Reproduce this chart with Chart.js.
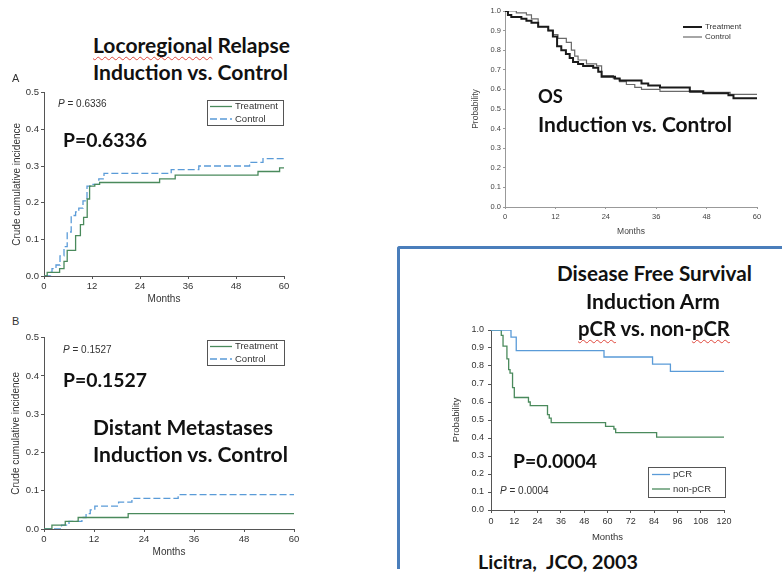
<!DOCTYPE html>
<html>
<head>
<meta charset="utf-8">
<script src="https://cdn.jsdelivr.net/npm/chart.js@4.4.1/dist/chart.umd.min.js"></script>
<style>
  body { margin: 0; background: #fff; }
  #page { position: relative; width: 782px; height: 576px; overflow: hidden; background: #fff; }
  canvas { position: absolute; }
  .big { position: absolute; font-family: Lato, 'Open Sans', sans-serif; font-weight: 700; color: #111; white-space: nowrap; line-height: 1; }
  .sq { text-decoration: underline wavy #e0483c; text-decoration-thickness: 1px; text-underline-offset: 3px; text-decoration-skip-ink: none; }
  .small { position: absolute; font-family: 'Liberation Sans', Arial, sans-serif; color: #333; white-space: nowrap; line-height: 1; }
  #frame { position: absolute; left: 397px; top: 246px; width: 400px; height: 320px; border-left: 3px solid #4a7ebb; border-top: 3px solid #4a7ebb; border-top-left-radius: 3px; }
</style>
</head>
<body>
<div id="page">
  <div id="frame"></div>
  <canvas id="chartA"></canvas>
  <canvas id="chartB"></canvas>
  <canvas id="chartOS"></canvas>
  <canvas id="chartDFS"></canvas>
</div>
<script>
// A - locoregional relapse, crude cumulative incidence
var lrTrtMonths = [0, 0.8, 3.9, 5, 5.8, 7.9, 9.1, 9.9, 10.8, 11.4, 12.7, 13.9, 28.9, 32.8, 53.5, 58.9, 60];
var lrTrtValues = [0, 0.01, 0.02, 0.04, 0.07, 0.11, 0.14, 0.16, 0.21, 0.245, 0.25, 0.255, 0.265, 0.275, 0.285, 0.295, 0.295];
var lrCtlMonths = [0, 1.7, 2, 3, 4, 5, 5.8, 6.8, 7.9, 8.7, 9.75, 10.75, 12.25, 13.7, 15, 31.8, 38.7, 51.4, 54.75, 60];
var lrCtlValues = [0, 0.01, 0.02, 0.03, 0.055, 0.08, 0.12, 0.165, 0.175, 0.185, 0.205, 0.245, 0.25, 0.265, 0.28, 0.29, 0.30, 0.31, 0.32, 0.32];

// B - distant metastases
var dmTrtMonths = [0, 1.9, 5.1, 8.2, 20.2, 60];
var dmTrtValues = [0, 0.01, 0.02, 0.03, 0.04, 0.04];
var dmCtlMonths = [0, 4.2, 6, 9.1, 10.1, 11.1, 12.2, 17.9, 21.1, 32.2, 60];
var dmCtlValues = [0, 0.01, 0.02, 0.03, 0.04, 0.05, 0.06, 0.07, 0.08, 0.09, 0.09];

// OS - probability
var osTrtMonths = [0, 0.7, 1.5, 3.9, 5.1, 6.3, 7.9, 10.3, 11.4, 12.4, 13.4, 14.5, 15.4, 16.2, 17.4, 18.6, 21, 22.2, 23, 26.2, 27.3, 32.5, 34.1, 36.9, 44, 47.2, 53.2, 54.4, 60];
var osTrtValues = [1, 0.98, 0.97, 0.96, 0.95, 0.94, 0.92, 0.9, 0.87, 0.82, 0.80, 0.78, 0.76, 0.74, 0.73, 0.72, 0.71, 0.69, 0.665, 0.655, 0.645, 0.63, 0.62, 0.61, 0.59, 0.58, 0.57, 0.555, 0.555];
var osCtlMonths = [0, 2.7, 5.1, 6.3, 7.9, 10.3, 11.4, 12.6, 14.6, 15.8, 16.6, 17.4, 19.4, 21.8, 23, 25.8, 27.3, 28.9, 30.9, 32.5, 36.9, 44, 53.6, 60];
var osCtlValues = [1, 0.99, 0.98, 0.96, 0.92, 0.9, 0.88, 0.86, 0.84, 0.80, 0.77, 0.75, 0.73, 0.72, 0.67, 0.655, 0.64, 0.625, 0.61, 0.60, 0.59, 0.585, 0.575, 0.575];

// DFS - induction arm, pCR vs non-pCR
var dfsPcrMonths = [0, 10.3, 13, 58.2, 83.2, 92.4, 120];
var dfsPcrValues = [1, 0.96, 0.885, 0.85, 0.81, 0.77, 0.77];
var dfsNonMonths = [0, 5.3, 6.2, 8.2, 9.1, 9.8, 11.1, 12, 19.3, 20.2, 29.1, 30, 31, 59, 63.3, 64.2, 85.3, 120];
var dfsNonValues = [1, 0.97, 0.91, 0.84, 0.78, 0.76, 0.68, 0.625, 0.60, 0.58, 0.53, 0.51, 0.485, 0.465, 0.45, 0.43, 0.405, 0.405];

var green = '#4a8a5c';
var blue = '#5a9bd8';
var axisFont = 'Liberation Sans, Arial, sans-serif';

function steps(months, values) {
    return months.map(function(m, i) { return { x: m, y: values[i] }; });
}

// draws a small legend (optionally boxed) from the chart's own datasets
var boxLegend = {
    id: 'boxLegend',
    afterDraw: function(chart, args, o) {
        if (!o.rows) return;
        var ctx = chart.ctx;
        ctx.save();
        if (o.box) {
            ctx.strokeStyle = '#555';
            ctx.lineWidth = 1;
            ctx.strokeRect(o.x + 0.5, o.y + 0.5, o.w, o.h);
        }
        ctx.font = o.size + 'px ' + axisFont;
        ctx.fillStyle = '#333';
        ctx.textBaseline = 'middle';
        chart.data.datasets.forEach(function(ds, i) {
            var cy = o.rows[i];
            ctx.beginPath();
            ctx.strokeStyle = ds.borderColor;
            ctx.lineWidth = ds.borderWidth;
            ctx.setLineDash(ds.borderDash || []);
            ctx.moveTo(o.x0, cy);
            ctx.lineTo(o.x1, cy);
            ctx.stroke();
            ctx.setLineDash([]);
            ctx.fillText(ds.label, o.tx, cy);
        });
        ctx.restore();
    }
};

/*
 * rect: canvas box on the page, area: wanted plot area on the page
 */
function makeChart(id, rect, area, cfg) {
    var cv = document.getElementById(id);
    cv.width = rect.w;
    cv.height = rect.h;
    cv.style.left = rect.x + 'px';
    cv.style.top = rect.y + 'px';

    var yw = area.l - rect.x;
    var xh = rect.y + rect.h - area.b;
    var tickFont = { family: axisFont, size: cfg.tick };
    var titleFont = { family: axisFont, size: cfg.title };

    // legend coords page -> canvas
    var lg = cfg.legend;
    var leg = {
        box: lg.box, size: lg.size,
        x: lg.x - rect.x, y: lg.y - rect.y, w: lg.w, h: lg.h,
        x0: lg.x0 - rect.x, x1: lg.x1 - rect.x, tx: lg.tx - rect.x,
        rows: lg.rows.map(function(r) { return r - rect.y; })
    };

    var gridOpts = { display: true, drawOnChartArea: false, drawTicks: true, tickLength: cfg.tickLen, color: cfg.axis };

    return new Chart(cv, {
        type: 'line',
        data: { datasets: cfg.datasets },
        options: {
            responsive: false,
            animation: false,
            devicePixelRatio: 1,
            layout: { padding: { left: 0, top: area.t - rect.y, right: rect.x + rect.w - area.r, bottom: 0 } },
            elements: { point: { radius: 0 } },
            plugins: { legend: { display: false }, tooltip: { enabled: false }, boxLegend: leg },
            scales: {
                x: {
                    type: 'linear', min: 0, max: cfg.xMax,
                    ticks: { stepSize: 12, font: tickFont, color: cfg.tickColor, padding: cfg.xPad, maxRotation: 0, autoSkip: false },
                    grid: gridOpts,
                    border: { display: true, color: cfg.axis, width: 1 },
                    title: { display: true, text: 'Months', font: titleFont, color: cfg.tickColor, padding: { top: 0, bottom: cfg.xTitlePad } },
                    afterFit: function(s) { s.height = xh; }
                },
                y: {
                    type: 'linear', min: 0, max: cfg.yMax,
                    ticks: { stepSize: 0.1, font: tickFont, color: cfg.tickColor, padding: cfg.yPad,
                             callback: function(v) { return v.toFixed(1); } },
                    grid: gridOpts,
                    border: { display: true, color: cfg.axis, width: 1 },
                    title: { display: true, text: cfg.yTitle, font: titleFont, color: cfg.tickColor, padding: { top: cfg.yTitlePad, bottom: 0 } },
                    afterFit: function(s) { s.width = yw; }
                }
            }
        },
        plugins: [boxLegend]
    });
}

function kmSet(label, months, values, color, width, dash) {
    return {
        label: label, data: steps(months, values), borderColor: color, borderWidth: width,
        borderDash: dash || [], stepped: 'before', fill: false, borderCapStyle: 'butt'
    };
}

makeChart('chartA', { x: 0, y: 85, w: 300, h: 220 }, { l: 44, t: 91, r: 284, b: 276 }, {
    datasets: [
        kmSet('Treatment', lrTrtMonths, lrTrtValues, green, 1.3),
        kmSet('Control', lrCtlMonths, lrCtlValues, blue, 1.3, [7, 3])
    ],
    xMax: 60, yMax: 0.5, yTitle: 'Crude cumulative incidence',
    tick: 9.5, title: 10, tickLen: 3, xPad: 2, yPad: 2, xTitlePad: 0, yTitlePad: 11,
    axis: '#555', tickColor: '#333',
    legend: { box: true, size: 9.5, x: 207, y: 100, w: 76, h: 25, x0: 210, x1: 232, tx: 235, rows: [106.5, 119] }
});

makeChart('chartB', { x: 0, y: 330, w: 310, h: 230 }, { l: 44, t: 336, r: 294, b: 529 }, {
    datasets: [
        kmSet('Treatment', dmTrtMonths, dmTrtValues, green, 1.3),
        kmSet('Control', dmCtlMonths, dmCtlValues, blue, 1.3, [7, 3])
    ],
    xMax: 60, yMax: 0.5, yTitle: 'Crude cumulative incidence',
    tick: 9.5, title: 10, tickLen: 3, xPad: 2, yPad: 2, xTitlePad: 2, yTitlePad: 10,
    axis: '#555', tickColor: '#333',
    legend: { box: true, size: 9.5, x: 207, y: 340, w: 77, h: 25, x0: 210, x1: 232, tx: 235, rows: [346.5, 359] }
});

makeChart('chartOS', { x: 460, y: 0, w: 322, h: 245 }, { l: 505, t: 11, r: 757, b: 207 }, {
    datasets: [
        kmSet('Treatment', osTrtMonths, osTrtValues, '#1a1a1a', 2),
        kmSet('Control', osCtlMonths, osCtlValues, '#6a6a6a', 1.2)
    ],
    xMax: 60, yMax: 1, yTitle: 'Probability',
    tick: 7.5, title: 8.5, tickLen: 2, xPad: 3, yPad: 2, xTitlePad: 8, yTitlePad: 11,
    axis: '#999', tickColor: '#444',
    legend: { box: false, size: 8, x: 0, y: 0, w: 0, h: 0, x0: 683, x1: 702, tx: 705, rows: [27, 37] }
});

makeChart('chartDFS', { x: 440, y: 320, w: 342, h: 225 }, { l: 491, t: 330, r: 724, b: 510 }, {
    datasets: [
        kmSet('pCR', dfsPcrMonths, dfsPcrValues, blue, 1.3),
        kmSet('non-pCR', dfsNonMonths, dfsNonValues, green, 1.3)
    ],
    xMax: 120, yMax: 1, yTitle: 'Probability',
    tick: 9, title: 9.5, tickLen: 3, xPad: 3, yPad: 4, xTitlePad: 2, yTitlePad: 11,
    axis: '#555', tickColor: '#333',
    legend: { box: true, size: 9.5, x: 648, y: 467, w: 77, h: 30, x0: 652, x1: 670, tx: 673, rows: [474.5, 489] }
});

// overlay text: html, left, cap centre y, width
var bigText = [
    ['<span class="sq">Locoregional</span> Relapse', 93, 45, 197],
    ['Induction vs. Control', 93, 72, 195],
    ['P=0.6336', 63, 140, 84],
    ['P=0.1527', 63, 380, 84],
    ['Distant Metastases', 93, 427, 180],
    ['Induction vs. Control', 93, 454, 195],
    ['OS', 538, 97, 25],
    ['Induction vs. Control', 538, 124, 194],
    ['Disease Free Survival', 557, 274, 195],
    ['Induction Arm', 586, 301, 134],
    ['<span class="sq">pCR</span> vs. non-<span class="sq">pCR</span>', 578, 329, 152],
    ['P=0.0004', 513, 461, 84],
    ['Licitra,&nbsp; JCO, 2003', 478, 562, 160]
];
var smallText = [
    ['A', 12, 78, 11],
    ['B', 12, 321, 11],
    ['<i>P</i> = 0.6336', 58, 104, 10],
    ['<i>P</i> = 0.1527', 63, 350, 10],
    ['<i>P</i> = 0.0004', 500, 491, 10]
];

var page = document.getElementById('page');
bigText.forEach(function(t) {
    var el = document.createElement('div');
    el.className = 'big';
    el.innerHTML = t[0];
    el.style.fontSize = '20px';
    page.appendChild(el);
    var fs = 20 * t[3] / el.getBoundingClientRect().width;
    el.style.fontSize = fs + 'px';
    el.style.left = t[1] + 'px';
    el.style.top = (t[2] - 0.53 * fs) + 'px';
});
smallText.forEach(function(t) {
    var el = document.createElement('div');
    el.className = 'small';
    el.innerHTML = t[0];
    el.style.fontSize = t[3] + 'px';
    el.style.left = t[1] + 'px';
    el.style.top = (t[2] - 0.49 * t[3]) + 'px';
    page.appendChild(el);
});
</script>
</body>
</html>
